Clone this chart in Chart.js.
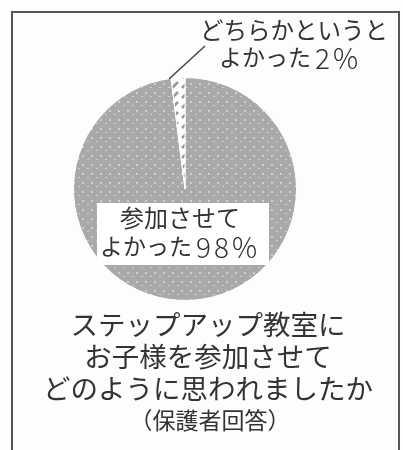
<!DOCTYPE html>
<html>
<head>
<meta charset="utf-8">
<script src="https://cdn.jsdelivr.net/npm/chart.js@4"></script>
<style>
    body { margin: 0; background: #fdfdfd; }
    #wrap { position: relative; width: 403px; height: 450px; }
    #frame {
        position: absolute; left: 11px; top: 11px; width: 385px; height: 440px;
        border: 2px solid #555; border-bottom-color: #888;
    }
    canvas { position: absolute; left: 0; top: 0; }
</style>
</head>
<body>
<div id="wrap">
    <div id="frame"></div>
    <canvas id="chartCanvas" width="403" height="450"></canvas>
</div>
<script>
const answers = ["参加させてよかった", "どちらかというとよかった"];
const percents = [98, 2];
const questionLines = ["ステップアップ教室に", "お子様を参加させて", "どのように思われましたか"];
const respondent = "（保護者回答）";

const FONT = "'Noto Sans CJK JP', 'Noto Sans', sans-serif";

// dotted gray fill like the printed screen
function dotPattern() {
    const c = document.createElement("canvas");
    c.width = 9; c.height = 9;
    const g = c.getContext("2d");
    g.fillStyle = "#a9a9a9";
    g.fillRect(0, 0, 9, 9);
    g.fillStyle = "#cfcfcf";
    g.fillRect(1, 2, 2, 2);
    g.fillRect(6, 6, 2, 1);
    return g.createPattern(c, "repeat");
}

// white fill with short gray slashes
function hatchPattern() {
    const c = document.createElement("canvas");
    c.width = 10; c.height = 10;
    const g = c.getContext("2d");
    g.fillStyle = "#ffffff";
    g.fillRect(0, 0, 10, 10);
    g.strokeStyle = "#999";
    g.lineWidth = 2.5;
    g.beginPath();
    g.moveTo(2, 8); g.lineTo(8, 2);
    g.stroke();
    return g.createPattern(c, "repeat");
}

// kana then a bigger, spaced out percentage
function drawPct(ctx, kana, pct, x, y) {
    ctx.font = "23px " + FONT;
    ctx.fillText(kana, x, y);
    const w = ctx.measureText(kana).width;
    ctx.font = "300 28px " + FONT;
    ctx.letterSpacing = "3px";
    ctx.fillText(pct + "%", x + w + 4, y + 1);
    ctx.letterSpacing = "0px";
}

// slice labels, leader line, white box over the big slice and the question text
const chartText = {
    id: "chartText",
    afterDatasetsDraw(chart) {
        const ctx = chart.ctx;
        ctx.save();
        ctx.fillStyle = "#ffffff";
        ctx.fillRect(97, 203, 172, 62);

        ctx.fillStyle = "#333";
        ctx.font = "24px " + FONT;
        ctx.textBaseline = "middle";
        ctx.textAlign = "left";
        ctx.fillText("参加させて", 120, 218);
        drawPct(ctx, "よかった", percents[0], 100, 246);

        ctx.font = "23.5px " + FONT;
        ctx.fillText("どちらかというと", 200, 30);
        drawPct(ctx, "よかった", percents[1], 219, 57);

        ctx.strokeStyle = "#444";
        ctx.lineWidth = 1.5;
        ctx.beginPath();
        ctx.moveTo(169, 79);
        ctx.lineTo(205, 46);
        ctx.stroke();

        ctx.textAlign = "center";
        ctx.font = "27.5px " + FONT;
        questionLines.forEach((line, i) => ctx.fillText(line, 208, 325 + i * 32));
        ctx.font = "23px " + FONT;
        ctx.fillText(respondent, 210, 420);
        ctx.restore();
    }
};

const ctx = document.getElementById("chartCanvas").getContext("2d");
new Chart(ctx, {
    type: "pie",
    data: {
        labels: answers,
        datasets: [{
            data: percents,
            backgroundColor: [dotPattern(), hatchPattern()],
            borderColor: "#ffffff",
            borderWidth: 1
        }]
    },
    options: {
        responsive: false,
        animation: false,
        layout: { padding: { left: 73, right: 106, top: 77, bottom: 149 } },
        plugins: {
            legend: { display: false },
            tooltip: { enabled: false }
        }
    },
    plugins: [chartText]
});
</script>
</body>
</html>
